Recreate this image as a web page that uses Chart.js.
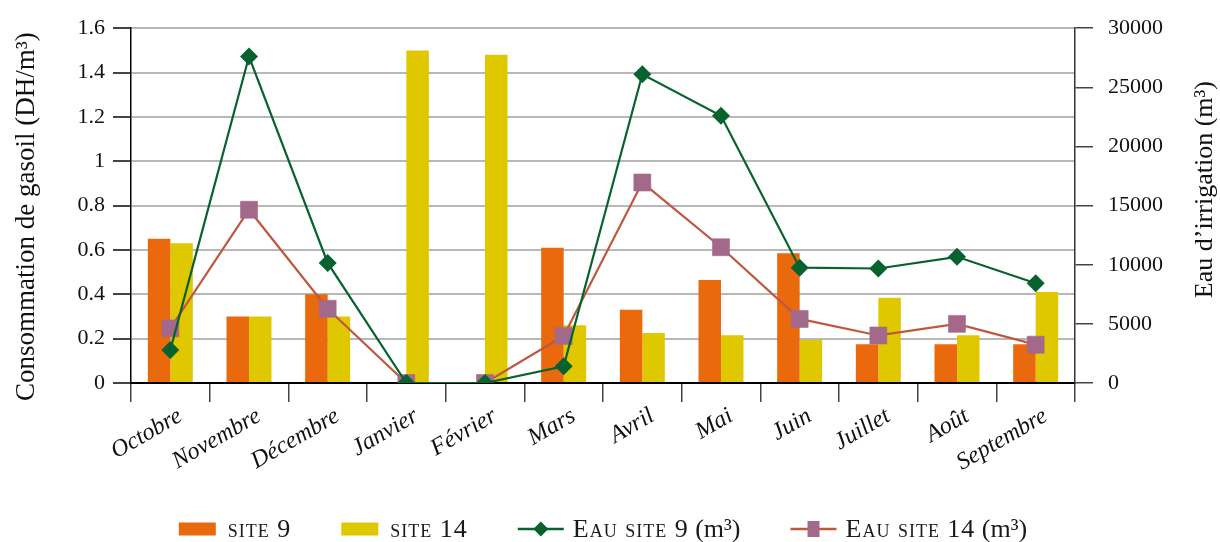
<!DOCTYPE html>
<html>
<head>
<meta charset="utf-8">
<script src="https://cdn.jsdelivr.net/npm/chart.js@4.4.1/dist/chart.umd.min.js"></script>
<style>
  html, body { margin: 0; padding: 0; background: #ffffff; }
  #wrap { width: 1220px; height: 542px; }
</style>
</head>
<body>
<div id="wrap"><canvas id="chart" width="1220" height="542"></canvas></div>
<script>
// Months of the irrigation season
const months = ['Octobre', 'Novembre', 'Décembre', 'Janvier', 'Février', 'Mars',
                'Avril', 'Mai', 'Juin', 'Juillet', 'Août', 'Septembre'];

// Fuel consumption per cubic metre (DH/m³), left axis
const gasoilSite9  = [0.65, 0.30, 0.40, 0, 0, 0.61, 0.33, 0.465, 0.585, 0.175, 0.175, 0.175];
const gasoilSite14 = [0.63, 0.30, 0.30, 1.50, 1.48, 0.26, 0.225, 0.215, 0.195, 0.385, 0.215, 0.41];

// Irrigation water volume (m³), right axis
const eauSite9  = [2800, 27600, 10150, 0, 0, 1420, 26100, 22600, 9750, 9680, 10670, 8440];
const eauSite14 = [4620, 14650, 6280, 0, 0, 3980, 16950, 11480, 5420, 4020, 5000, 3240];

const seriesNames = ['site 9', 'site 14', 'Eau site 9 (m³)', 'Eau site 14 (m³)'];
const axisTitles = ['Consommation de gasoil (DH/m³)', 'Eau d’irrigation (m³)'];

const SERIF = '"Liberation Serif", "DejaVu Serif", serif';
const ORANGE = '#E9690C';
const YELLOW = '#DFC800';
const GREEN = '#07622E';
const MAUVE = '#A3698A';
const RUST = '#C0583F';
const INK = '#111111';

// Both axis titles read bottom-to-top, beside their axes
const axisTitlePlugin = {
  id: 'axisTitles',
  afterDraw(chart) {
    const ctx = chart.ctx;
    const area = chart.chartArea;
    const midY = (area.top + area.bottom) / 2;
    ctx.save();
    ctx.fillStyle = INK;
    ctx.textAlign = 'center';
    ctx.textBaseline = 'middle';

    ctx.save();
    ctx.translate(chart.scales.y.left + 27, midY + 11);
    ctx.rotate(-Math.PI / 2);
    ctx.font = '27px ' + SERIF;
    ctx.fillText(axisTitles[0], 0, 0);
    ctx.restore();

    ctx.save();
    ctx.translate(chart.scales.y1.right - 15, midY - 16);
    ctx.rotate(-Math.PI / 2);
    ctx.font = '26px ' + SERIF;
    ctx.fillText(axisTitles[1], 0, 0);
    ctx.restore();

    ctx.restore();
  }
};

// Legend under the x axis: bar swatches and line+marker samples.
// The series word is set in small caps, the unit in ordinary type.
const bottomLegend = {
  id: 'bottomLegend',
  afterDraw(chart) {
    const ctx = chart.ctx;
    const area = chart.chartArea;
    const cy = chart.height - 13;
    const capsFont = 'small-caps 26px ' + SERIF;
    const plainFont = '26px ' + SERIF;
    ctx.save();

    const split = label => {
      const k = label.indexOf(' (');
      return k < 0 ? [label, ''] : [label.slice(0, k), label.slice(k)];
    };
    const measure = (txt, font, spacing) => {
      ctx.font = font;
      try { ctx.letterSpacing = spacing; } catch (e) {}
      const w = ctx.measureText(txt).width;
      try { ctx.letterSpacing = '0px'; } catch (e) {}
      return w;
    };

    const items = chart.data.datasets.map(ds => {
      const isLine = ds.type === 'line';
      const symW = isLine ? 46 : 37;
      const gap = isLine ? 9 : 12;
      const [caps, unit] = split(ds.label);
      const capsW = measure(caps, capsFont, '1px');
      const unitW = unit ? measure(unit, plainFont, '0px') : 0;
      return { ds, isLine, symW, gap, caps, unit, capsW, unitW, w: symW + gap + capsW + unitW };
    });
    const spacing = 50;
    const total = items.reduce((s, it) => s + it.w, 0) + spacing * (items.length - 1);
    let x = (area.left + area.right) / 2 - total / 2;

    items.forEach(it => {
      const ds = it.ds;
      if (it.isLine) {
        ctx.strokeStyle = ds.borderColor;
        ctx.lineWidth = 2.5;
        ctx.beginPath();
        ctx.moveTo(x, cy);
        ctx.lineTo(x + it.symW, cy);
        ctx.stroke();
        const mx = x + it.symW / 2;
        ctx.fillStyle = ds.pointBackgroundColor;
        ctx.beginPath();
        if (ds.pointStyle === 'rectRot') {
          const r = 7.5;
          ctx.moveTo(mx, cy - r);
          ctx.lineTo(mx + r, cy);
          ctx.lineTo(mx, cy + r);
          ctx.lineTo(mx - r, cy);
          ctx.closePath();
        } else {
          ctx.rect(mx - 6, cy - 8, 12, 16);
        }
        ctx.fill();
      } else {
        ctx.fillStyle = ds.backgroundColor;
        ctx.fillRect(x, cy - 6.5, it.symW, 13);
      }
      ctx.fillStyle = '#1a1a1a';
      ctx.textBaseline = 'middle';
      ctx.textAlign = 'left';
      const tx = x + it.symW + it.gap;
      ctx.font = capsFont;
      try { ctx.letterSpacing = '1px'; } catch (e) {}
      ctx.fillText(it.caps, tx, cy + 1);
      try { ctx.letterSpacing = '0px'; } catch (e) {}
      if (it.unit) {
        ctx.font = plainFont;
        ctx.fillText(it.unit, tx + it.capsW, cy + 1);
      }
      x += it.w + spacing;
    });
    ctx.restore();
  }
};

const fmtLeft = v => String(Number(v.toFixed(1)));

new Chart(document.getElementById('chart'), {
  data: {
    labels: months,
    datasets: [
      {
        type: 'bar', label: seriesNames[0], data: gasoilSite9, yAxisID: 'y',
        backgroundColor: ORANGE, borderWidth: 0, order: 2,
        categoryPercentage: 0.572, barPercentage: 1.0
      },
      {
        type: 'bar', label: seriesNames[1], data: gasoilSite14, yAxisID: 'y',
        backgroundColor: YELLOW, borderWidth: 0, order: 3,
        categoryPercentage: 0.572, barPercentage: 1.0
      },
      {
        type: 'line', label: seriesNames[2], data: eauSite9, yAxisID: 'y1',
        borderColor: GREEN, borderWidth: 2.2, tension: 0,
        pointStyle: 'rectRot', pointRadius: 9, pointHoverRadius: 9,
        pointBackgroundColor: GREEN, pointBorderColor: GREEN, pointBorderWidth: 0,
        order: 0
      },
      {
        type: 'line', label: seriesNames[3], data: eauSite14, yAxisID: 'y1',
        borderColor: RUST, borderWidth: 2.2, tension: 0,
        pointStyle: 'rect', pointRadius: 12, pointHoverRadius: 12,
        pointBackgroundColor: MAUVE, pointBorderColor: 'rgba(163,105,138,0.6)', pointBorderWidth: 1,
        order: 1
      }
    ]
  },
  options: {
    responsive: false,
    animation: false,
    devicePixelRatio: 1,
    layout: { padding: { top: 25, right: 0, bottom: 0, left: 0 } },
    plugins: {
      legend: { display: false },
      tooltip: { enabled: false }
    },
    scales: {
      x: {
        offset: true,
        border: { color: '#000000', width: 2 },
        grid: {
          offset: true, drawOnChartArea: false, drawTicks: true,
          tickLength: 19, tickColor: '#444444', lineWidth: 1.5
        },
        ticks: {
          autoSkip: false, maxRotation: 30, minRotation: 30, padding: 0,
          labelOffset: 10,
          color: INK,
          font: { family: SERIF, style: 'italic', size: 24 }
        },
        afterFit(scale) { scale.height = 159; }
      },
      y: {
        position: 'left',
        min: 0, max: 1.6,
        border: { color: '#000000', width: 1.5 },
        grid: {
          color: '#b8b8b8', lineWidth: 2, drawTicks: true,
          tickLength: 18, tickColor: '#444444'
        },
        ticks: {
          stepSize: 0.2, padding: 8, color: INK,
          font: { family: SERIF, size: 22 },
          callback: fmtLeft
        },
        title: { display: false },
        afterFit(scale) { scale.width = 131; }
      },
      y1: {
        position: 'right',
        min: 0, max: 30000,
        border: { color: '#333333', width: 1.5 },
        grid: {
          drawOnChartArea: false, drawTicks: true,
          tickLength: 18, tickColor: '#444444', lineWidth: 1.5
        },
        ticks: {
          stepSize: 5000, padding: 15, color: INK,
          font: { family: SERIF, size: 22 },
          callback: v => String(v)
        },
        title: { display: false },
        afterFit(scale) { scale.width = 145; }
      }
    }
  },
  plugins: [axisTitlePlugin, bottomLegend]
});
</script>
</body>
</html>
